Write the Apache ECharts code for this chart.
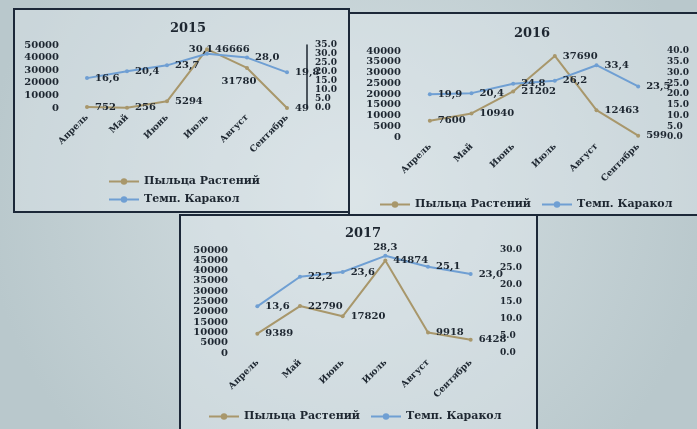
<!DOCTYPE html>
<html>
<head>
<meta charset="utf-8">
<script src="https://cdn.jsdelivr.net/npm/echarts@6/dist/echarts.min.js"></script>
<style>
  html, body { margin: 0; padding: 0; background: #c3ced2; }
  #chart { width: 697px; height: 429px; }
</style>
</head>
<body>
<div id="chart"></div>
<script>
// Пыльца растений и температура, Каракол 2015-2017

const MONTHS = ['Апрель', 'Май', 'Июнь', 'Июль', 'Август', 'Сентябрь'];
const POLLEN_2015 = [752, 256, 5294, 46666, 31780, 49];
const TEMP_2015 = [16.6, 20.4, 23.7, 30.1, 28.0, 19.8];
const POLLEN_2016 = [7600, 10940, 21202, 37690, 12463, 599];
const TEMP_2016 = [19.9, 20.4, 24.8, 26.2, 33.4, 23.5];
const POLLEN_2017 = [9389, 22790, 17820, 44874, 9918, 6428];
const TEMP_2017 = [13.6, 22.2, 23.6, 28.3, 25.1, 23.0];

const POLLEN_NAME = 'Пыльца Растений';
const TEMP_NAME = 'Темп. Каракол';
const BROWN = '#a8976b';
const BLUE = '#6f9fd3';
const INK = '#1d2630';
const FONT = '"DejaVu Serif", "Liberation Serif", serif';

const panels = [
  {
    year: '2015', pollen: POLLEN_2015, temp: TEMP_2015,
    leftMax: 50000, leftStep: 10000, rightMax: 35,
    grid: { left: 67, top: 45, width: 240, height: 63 },
    titleAt: [183, 17], rightLine: true,
    legend: { orient: 'vertical', left: 103, top: 171, itemGap: 7 },
    pollenPos: { 4: { position: 'bottom', offset: [-8, 0] } },
    tempPos: { 3: { position: 'top', offset: [-6, 9] } },
  },
  {
    year: '2016', pollen: POLLEN_2016, temp: TEMP_2016,
    leftMax: 40000, leftStep: 5000, rightMax: 40,
    grid: { left: 409, top: 51, width: 250, height: 86 },
    titleAt: [527, 22], rightLine: false,
    legend: { orient: 'horizontal', left: 374, top: 194, itemGap: 10 },
    pollenPos: {}, tempPos: {},
  },
  {
    year: '2017', pollen: POLLEN_2017, temp: TEMP_2017,
    leftMax: 50000, leftStep: 5000, rightMax: 30,
    grid: { left: 236, top: 250, width: 256, height: 103 },
    titleAt: [358, 222], rightLine: false,
    legend: { orient: 'horizontal', left: 203, top: 406, itemGap: 10 },
    pollenPos: {}, tempPos: { 3: { position: 'top', offset: [0, 5] } },
  },
];

function withLabels(values, overrides) {
  return values.map((v, i) => overrides[i] ? { value: v, label: overrides[i] } : v);
}

const grids = [], xAxes = [], yAxes = [], series = [], titles = [], legends = [];

panels.forEach((p, k) => {
  grids.push(p.grid);
  titles.push({
    text: p.year, left: p.titleAt[0], top: p.titleAt[1], textAlign: 'center',
    textStyle: { fontFamily: FONT, fontWeight: 'bold', fontSize: 13, color: INK },
  });
  xAxes.push({
    type: 'category', gridIndex: k, data: MONTHS, boundaryGap: true,
    axisLine: { show: false }, axisTick: { show: false },
    axisLabel: { interval: 0, rotate: 45, margin: 8, fontFamily: FONT, fontWeight: 'bold', fontSize: 9, color: INK },
  });
  yAxes.push({
    type: 'value', gridIndex: k, min: 0, max: p.leftMax, interval: p.leftStep,
    splitLine: { show: false }, axisLine: { show: false }, axisTick: { show: false },
    axisLabel: {
      margin: 8, fontFamily: FONT, fontWeight: 'bold', fontSize: 10, color: INK,
      formatter: v => String(v),
    },
  });
  yAxes.push({
    type: 'value', gridIndex: k, position: 'right', min: 0, max: p.rightMax, interval: 5,
    splitLine: { show: false },
    axisLine: { show: p.rightLine, lineStyle: { color: INK, width: 1.5 } }, axisTick: { show: false },
    axisLabel: {
      margin: 8, fontFamily: FONT, fontWeight: 'bold', fontSize: 9, color: INK,
      formatter: v => v.toFixed(1),
    },
  });
  const labelStyle = {
    show: true, position: 'right', distance: 6,
    fontFamily: FONT, fontWeight: 'bold', fontSize: 10, color: INK,
  };
  series.push({
    name: POLLEN_NAME, type: 'line', xAxisIndex: k, yAxisIndex: k * 2,
    data: withLabels(p.pollen, p.pollenPos),
    symbol: 'circle', symbolSize: 4,
    lineStyle: { color: BROWN, width: 2 }, itemStyle: { color: BROWN },
    label: Object.assign({}, labelStyle, { formatter: q => String(q.value) }),
  });
  series.push({
    name: TEMP_NAME, type: 'line', xAxisIndex: k, yAxisIndex: k * 2 + 1,
    data: withLabels(p.temp, p.tempPos),
    symbol: 'circle', symbolSize: 4,
    lineStyle: { color: BLUE, width: 2 }, itemStyle: { color: BLUE },
    label: Object.assign({}, labelStyle, { formatter: q => q.value.toFixed(1).replace('.', ',') }),
  });
  legends.push(Object.assign({
    data: [POLLEN_NAME, TEMP_NAME], itemWidth: 30, itemHeight: 8, selectedMode: false,
    textStyle: { fontFamily: FONT, fontWeight: 'bold', fontSize: 11, color: INK },
  }, p.legend));
});

const chart = echarts.init(document.getElementById('chart'), null, { renderer: 'canvas' });
chart.setOption({
  animation: false,
  backgroundColor: {
    type: 'radial', x: 0.5, y: 0.45, r: 0.85,
    colorStops: [{ offset: 0, color: '#d6e0e3' }, { offset: 1, color: '#b9c8cc' }],
  },
  graphic: [
    { type: 'rect', z: -10, shape: { x: 14, y: 9, width: 335, height: 203 }, style: { fill: 'rgba(228,236,239,0.4)', stroke: '#1c2838', lineWidth: 2 } },
    { type: 'rect', z: -10, shape: { x: 349, y: 13, width: 360, height: 202 }, style: { fill: 'rgba(228,236,239,0.4)', stroke: '#1c2838', lineWidth: 2 } },
    { type: 'rect', z: -10, shape: { x: 180, y: 215, width: 357, height: 230 }, style: { fill: 'rgba(228,236,239,0.4)', stroke: '#1c2838', lineWidth: 2 } },
  ],
  title: titles,
  legend: legends,
  grid: grids,
  xAxis: xAxes,
  yAxis: yAxes,
  series,
});
</script>
</body>
</html>
